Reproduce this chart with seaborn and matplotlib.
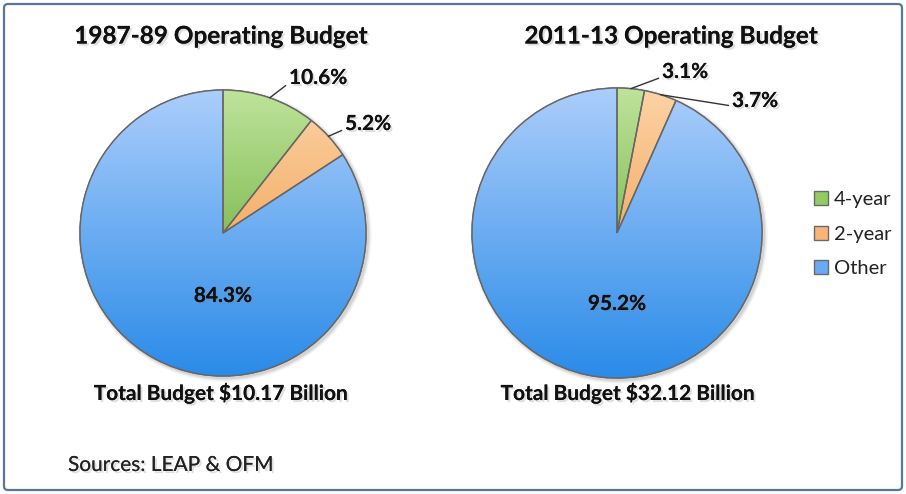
import numpy as np
import matplotlib
matplotlib.use("Agg")
import matplotlib.pyplot as plt
import seaborn as sns
from matplotlib.colors import LinearSegmentedColormap
from matplotlib.patches import FancyBboxPatch, Circle, Wedge
import matplotlib.patheffects as pe

sns.set_theme(style="white")
plt.rcParams["font.family"] = ["Lato", "DejaVu Sans"]

# data
categories = ["4-year", "2-year", "Other"]
share_1987 = [10.6, 5.2, 84.3]
share_2011 = [3.1, 3.7, 95.2]
titles = ["1987-89 Operating Budget", "2011-13 Operating Budget"]
totals = ["Total Budget $10.17 Billion", "Total Budget $32.12 Billion"]
source = "Sources: LEAP & OFM"

# light (top) -> dark (bottom) for each slice
grad_colors = [("#bfe39a", "#4f9c1c"), ("#fdd3a6", "#e98c30"), ("#acceFb", "#2a8be8")]
mid_colors = ["#93cb60", "#f8b577", "#6aaaf4"]

shadow = [pe.withSimplePatchShadow(offset=(1.5, -1.5), alpha=0.25, shadow_rgbFace="gray"),
          pe.Normal()]

fig = plt.figure(figsize=(9.06, 4.94), dpi=100)
ax = fig.add_axes([0, 0, 1, 1])

# pixel-like coords, y from bottom
pies = [
    dict(values=share_1987, center=(223, 261), r=143, title_x=221, total_x=221,
         label_pos=[(289, 416), (345, 370)], main_off=(0, -63)),
    dict(values=share_2011, center=(617, 261), r=145, title_x=671, total_x=628,
         label_pos=[(662, 422), (732, 393)], main_off=(0, -71)),
]

for i, p in enumerate(pies):
    cx, cy = p["center"]
    r = p["r"]
    # soft shadow behind the pie
    for k, a in zip([6, 4, 2], [0.08, 0.12, 0.18]):
        ax.add_patch(Circle((cx + 2, cy - 2), r + k * 0.6, color="gray", alpha=a, lw=0, zorder=0))
    wedges, _ = ax.pie(p["values"], colors=mid_colors, startangle=90, counterclock=False,
                       center=(cx, cy), radius=r,
                       wedgeprops=dict(edgecolor="#6a6a6a", linewidth=1.0))
    grad = np.linspace(0, 1, 256).reshape(-1, 1)
    for w, (c1, c2) in zip(wedges, grad_colors):
        cmap = LinearSegmentedColormap.from_list("g", [c1, c2])
        im = ax.imshow(grad, extent=[cx - r, cx + r, cy - r, cy + r], origin="upper",
                       cmap=cmap, aspect="auto", zorder=w.get_zorder() + 0.1)
        im.set_clip_path(w)
        ax.add_patch(Wedge((cx, cy), r, w.theta1, w.theta2, facecolor="none",
                           edgecolor="#666666", linewidth=1.0, zorder=w.get_zorder() + 0.2))

    # small slice labels with leader lines
    for w, val, (tx, ty) in zip(wedges[:2], p["values"][:2], p["label_pos"]):
        ang = np.deg2rad((w.theta1 + w.theta2) / 2)
        px, py = cx + r * np.cos(ang), cy + r * np.sin(ang)
        ax.annotate(f"{val}%", xy=(px, py), xytext=(tx, ty), ha="left", va="center",
                    fontsize=15, fontweight="bold", color="#111111", path_effects=shadow,
                    arrowprops=dict(arrowstyle="-", color="#333333", lw=1.0,
                                    shrinkA=0, shrinkB=0, relpos=(0, 0.25)),
                    zorder=5)
    # big slice label
    ax.text(cx + p["main_off"][0], cy + p["main_off"][1], f"{p['values'][2]}%",
            ha="center", va="center", fontsize=15, fontweight="bold", color="#111111",
            path_effects=shadow, zorder=5)

    ax.text(p["title_x"], 458, titles[i], ha="center", va="center", fontsize=17.5,
            fontweight="bold", color="#111111", path_effects=shadow)
    ax.text(p["total_x"], 101, totals[i], ha="center", va="center", fontsize=15,
            fontweight="bold", color="#111111", path_effects=shadow)

ax.text(68, 29, source, ha="left", va="center", fontsize=15, color="#222222",
        path_effects=shadow)

leg = ax.legend(wedges, categories, loc="center left", bbox_to_anchor=(0.878, 0.526),
                frameon=False, fontsize=14.5, handlelength=0.7, handleheight=0.7,
                handletextpad=0.3, labelspacing=0.85)
for t in leg.get_texts():
    t.set_color("#222222")

# outer frame
ax.add_patch(FancyBboxPatch((4, 4), 898, 486, boxstyle="round,pad=0,rounding_size=4",
                            facecolor="none", edgecolor="#5b7595", linewidth=1.6, zorder=10))

ax.set_xlim(0, 906)
ax.set_ylim(0, 494)
ax.set_aspect("equal")
ax.axis("off")
fig.savefig("out.png", dpi=100)
